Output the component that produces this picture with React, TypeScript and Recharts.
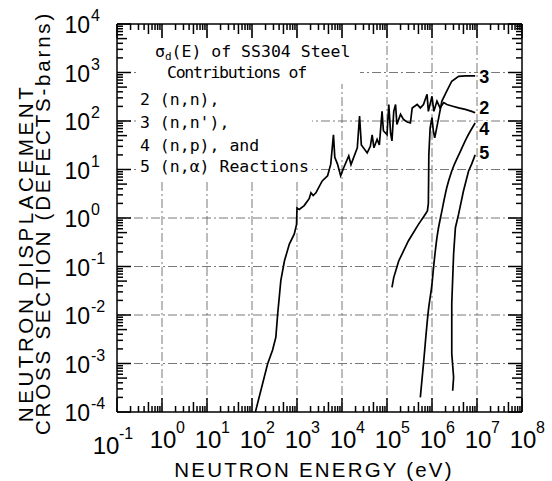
import { ComposedChart, Line, XAxis, YAxis, ReferenceLine } from "recharts";

const W = 552;
const H = 481;

// axis decades and minor mantissas
const xDecades = [0.1, 1, 10, 100, 1e3, 1e4, 1e5, 1e6, 1e7, 1e8];
const yDecades = [1e-4, 1e-3, 1e-2, 1e-1, 1, 10, 100, 1e3, 1e4];
const mantissas = [2, 3, 4, 5, 6, 7, 8, 9];
const xGrid = [1, 10, 100, 1e3, 1e4, 1e5, 1e6, 1e7];
const yGrid = [1e-3, 1e-2, 1e-1, 1, 10, 100, 1e3];

// 2 (n,n) elastic
const nnEnergy = [
  119, 222, 287, 339, 372, 437, 525, 676, 871, 977, 1000, 1122, 1445, 1862,
  2042, 2291, 2630, 3631, 4786, 5623, 6457, 6918, 7943, 9333, 10965, 14125,
  15849, 21878, 24547, 26915, 36308, 42658, 46774, 51286, 60256, 67608, 77625,
  83176, 1.0e5, 1.096e5, 1.202e5, 1.288e5, 1.413e5, 1.549e5, 1.66e5, 2.0e5,
  2.34e5, 2.82e5, 3.31e5, 3.63e5, 4.68e5, 5.5e5, 6.46e5, 7.76e5, 8.3e5, 1.0e6,
  1.1e6, 1.29e6, 1.51e6, 1.82e6, 2.14e6, 2.75e6, 3.9e6, 5.5e6, 7.6e6, 9.1e6,
];
const nnSigma = [
  1e-4, 9.8e-4, 1.9e-3, 3.5e-3, 0.0105, 0.051, 0.13, 0.29, 0.47, 0.74, 1.6, 1.5,
  1.8, 2.5, 3.3, 2.9, 3.3, 5.8, 7.4, 12.9, 52, 17.8, 12.9, 7.4, 11, 19, 12.6, 28,
  126, 32, 22, 30, 52, 28, 42, 32, 158, 63, 52, 219, 56, 39, 158, 219, 85, 138,
  107, 95, 91, 186, 219, 186, 219, 355, 158, 324, 158, 257, 186, 240, 219, 204,
  186, 174, 158, 148,
];

// 3 (n,n') inelastic
const ninEnergy = [
  1.29e5, 1.41e5, 1.82e5, 3.0e5, 5.0e5, 7.1e5, 7.9e5, 8.3e5, 8.4e5, 8.5e5,
  9.1e5, 1.0e6, 1.07e6, 1.15e6, 1.41e6, 1.66e6, 2.14e6, 2.75e6, 3.9e6, 5.5e6,
  9.1e6,
];
const ninSigma = [
  0.037, 0.059, 0.13, 0.34, 0.74, 1.2, 1.4, 2.0, 5.8, 20, 72, 117, 63, 45, 117,
  257, 417, 661, 832, 851, 851,
];

// 4 (n,p)
const npEnergy = [
  5.5e5, 6.46e5, 8.3e5, 1.0e6, 1.1e6, 1.29e6, 1.66e6, 2.14e6, 2.75e6, 4.3e6,
  5.9e6, 9.1e6,
];
const npSigma = [2.0e-4, 9.8e-4, 0.0123, 0.044, 0.11, 0.4, 1.4, 4.3, 9.3, 24, 45, 91];

// 5 (n,alpha)
const naEnergy = [
  2.88e6, 3.02e6, 2.75e6, 2.75e6, 3.02e6, 3.31e6, 3.9e6, 5.0e6, 6.5e6, 7.6e6,
  9.1e6,
];
const naSigma = [2.75e-4, 5.2e-4, 1.6e-3, 0.017, 0.18, 0.63, 1.2, 3.6, 9.3, 12.9, 20];

const rows = (e: number[], s: number[]) => e.map((v, i) => ({ e: v, s: s[i] }));
const nnData = rows(nnEnergy, nnSigma);
const ninData = rows(ninEnergy, ninSigma);
const npData = rows(npEnergy, npSigma);
const naData = rows(naEnergy, naSigma);

const withMinor = (decades: number[]) =>
  decades.flatMap((d, i) =>
    i < decades.length - 1 ? [d, ...mantissas.map((m) => m * d)] : [d]
  );
const xTicks = withMinor(xDecades);
const yTicks = withMinor(yDecades);

const SANS = "'Liberation Sans', Arial, sans-serif";
const MONO = "'DejaVu Sans Mono', monospace";

const exp10 = (v: number) => Math.round(Math.log10(v));
const isDecade = (v: number) => Math.abs(Math.log10(v) - exp10(v)) < 1e-6;
const mant = (v: number) =>
  Math.round(v / Math.pow(10, Math.floor(Math.log10(v) + 1e-9)));
const tickLen = (v: number) => (isDecade(v) ? 14 : mant(v) === 5 ? 10 : 6);

const TICK = { stroke: "#000", strokeWidth: 1.5 };

const BottomTick = ({ x, y, payload }: any) => {
  const v = payload.value;
  const p = exp10(v);
  const shift = p === -1 ? -12 : 0;
  const drop = p === -1 ? 6 : 0;
  return (
    <g>
      <line x1={x} y1={y} x2={x} y2={y - tickLen(v)} {...TICK} />
      {isDecade(v) && (
        <g fontFamily={SANS} fill="#000">
          <text x={x + 1 + shift} y={y + 36 + drop} fontSize={24} textAnchor="middle">
            10
          </text>
          <text x={x + 14 + shift} y={y + 21 + drop} fontSize={16}>
            {p}
          </text>
        </g>
      )}
    </g>
  );
};

const TopTick = ({ x, y, payload }: any) => (
  <line x1={x} y1={y} x2={x} y2={y + tickLen(payload.value)} {...TICK} />
);

const LeftTick = ({ x, y, payload }: any) => {
  const v = payload.value;
  return (
    <g>
      <line x1={x} y1={y} x2={x + tickLen(v)} y2={y} {...TICK} />
      {isDecade(v) && (
        <g fontFamily={SANS} fill="#000">
          <text x={x - 27} y={y + 9} fontSize={23} textAnchor="end">
            10
          </text>
          <text x={x - 26} y={y - 3} fontSize={16}>
            {exp10(v)}
          </text>
        </g>
      )}
    </g>
  );
};

const RightTick = ({ x, y, payload }: any) => (
  <line x1={x} y1={y} x2={x - tickLen(payload.value)} y2={y} {...TICK} />
);

const endLabel = (text: string, count: number, dy: number) => (props: any) => {
  if (props.index !== count - 1) return null;
  const x = props.x ?? props.viewBox?.x;
  const y = props.y ?? props.viewBox?.y;
  return (
    <g>
      <rect x={x + 3} y={y + dy - 14} width={13} height={15} fill="#fff" />
      <text x={x + 4} y={y + dy} fontSize={18} fontWeight={600} fontFamily={SANS} fill="#000">
        {text}
      </text>
    </g>
  );
};

const YTitle = () => (
  <g fontFamily={SANS} fontSize={20.5} fill="#000" textAnchor="middle">
    <text x={33} y={253} transform="rotate(-90 33 253)" letterSpacing={3.6}>
      NEUTRON DISPLACEMENT
    </text>
    <text x={50} y={223} transform="rotate(-90 50 223)" letterSpacing={2.8}>
      CROSS SECTION (DEFECTS-barns)
    </text>
  </g>
);

const XTitle = () => (
  <text x={314} y={477} fontFamily={SANS} fontSize={20.5} letterSpacing={2.2} textAnchor="middle" fill="#000">
    NEUTRON ENERGY (eV)
  </text>
);

const gridStroke = { stroke: "#555", strokeWidth: 0.8, strokeDasharray: "9 3 2 3" };

export default function App() {
  return (
    <div style={{ position: "absolute", left: 0, top: 0, width: W, height: H, background: "#fff" }}>
      <ComposedChart width={W} height={H} margin={{ top: 23, right: 29, bottom: 0, left: 0 }}>
        <XAxis
          xAxisId="b"
          type="number"
          dataKey="e"
          scale="log"
          domain={[0.1, 1e8]}
          allowDataOverflow
          ticks={xTicks}
          interval={0}
          tickSize={0}
          tickMargin={0}
          tickLine={false}
          tick={(p: any) => <BottomTick {...p} />}
          height={69}
          axisLine={{ stroke: "#000", strokeWidth: 1.5 }}
          label={{ content: () => <XTitle /> }}
        />
        <XAxis
          xAxisId="t"
          orientation="top"
          type="number"
          dataKey="e"
          scale="log"
          domain={[0.1, 1e8]}
          allowDataOverflow
          ticks={xTicks}
          interval={0}
          tickSize={0}
          tickMargin={0}
          tickLine={false}
          tick={(p: any) => <TopTick {...p} />}
          height={1}
          axisLine={{ stroke: "#000", strokeWidth: 1.5 }}
        />
        <YAxis
          yAxisId="l"
          type="number"
          scale="log"
          domain={[1e-4, 1e4]}
          allowDataOverflow
          ticks={yTicks}
          interval={0}
          tickSize={0}
          tickMargin={0}
          tickLine={false}
          tick={(p: any) => <LeftTick {...p} />}
          width={117}
          axisLine={{ stroke: "#000", strokeWidth: 1.5 }}
          label={{ content: () => <YTitle /> }}
        />
        <YAxis
          yAxisId="r"
          orientation="right"
          type="number"
          scale="log"
          domain={[1e-4, 1e4]}
          allowDataOverflow
          ticks={yTicks}
          interval={0}
          tickSize={0}
          tickMargin={0}
          tickLine={false}
          tick={(p: any) => <RightTick {...p} />}
          width={1}
          axisLine={{ stroke: "#000", strokeWidth: 1.5 }}
        />
        {xGrid.map((v) => (
          <ReferenceLine key={`gx-${v}`} xAxisId="b" yAxisId="l" x={v} {...gridStroke} />
        ))}
        {yGrid.map((v) => (
          <ReferenceLine key={`gy-${v}`} xAxisId="b" yAxisId="l" y={v} {...gridStroke} />
        ))}
        <Line xAxisId="b" yAxisId="l" data={nnData} dataKey="s" type="linear" stroke="#000" strokeWidth={1.7} dot={false} activeDot={false} isAnimationActive={false} label={endLabel("2", nnData.length, 1)} />
        <Line xAxisId="b" yAxisId="l" data={ninData} dataKey="s" type="linear" stroke="#000" strokeWidth={1.7} dot={false} activeDot={false} isAnimationActive={false} label={endLabel("3", ninData.length, 7)} />
        <Line xAxisId="b" yAxisId="l" data={npData} dataKey="s" type="monotone" stroke="#000" strokeWidth={1.7} dot={false} activeDot={false} isAnimationActive={false} label={endLabel("4", npData.length, 12)} />
        <Line xAxisId="b" yAxisId="l" data={naData} dataKey="s" type="linear" stroke="#000" strokeWidth={1.7} dot={false} activeDot={false} isAnimationActive={false} label={endLabel("5", naData.length, 4)} />
      </ComposedChart>
      <svg
        width={W}
        height={H}
        style={{ position: "absolute", left: 0, top: 0, pointerEvents: "none" }}
      >
        <rect x={136} y={38} width={224} height={46} fill="#fff" />
        <rect x={136} y={84} width={176} height={95} fill="#fff" />
        <g fontFamily={MONO} fontSize={16.5} fill="#000">
          <text x={155} y={57}>
            σ<tspan fontSize={11} dy={3}>d</tspan>
            <tspan dy={-3}>(E) of SS304 Steel</tspan>
          </text>
          <text x={167} y={78} letterSpacing={-1.25}>
            Contributions of
          </text>
          <text x={140} y={105}>2 (n,n),</text>
          <text x={140} y={128}>3 (n,n'),</text>
          <text x={140} y={150.5}>4 (n,p), and</text>
          <text x={140} y={171.5}>5 (n,α) Reactions</text>
        </g>
      </svg>
    </div>
  );
}
